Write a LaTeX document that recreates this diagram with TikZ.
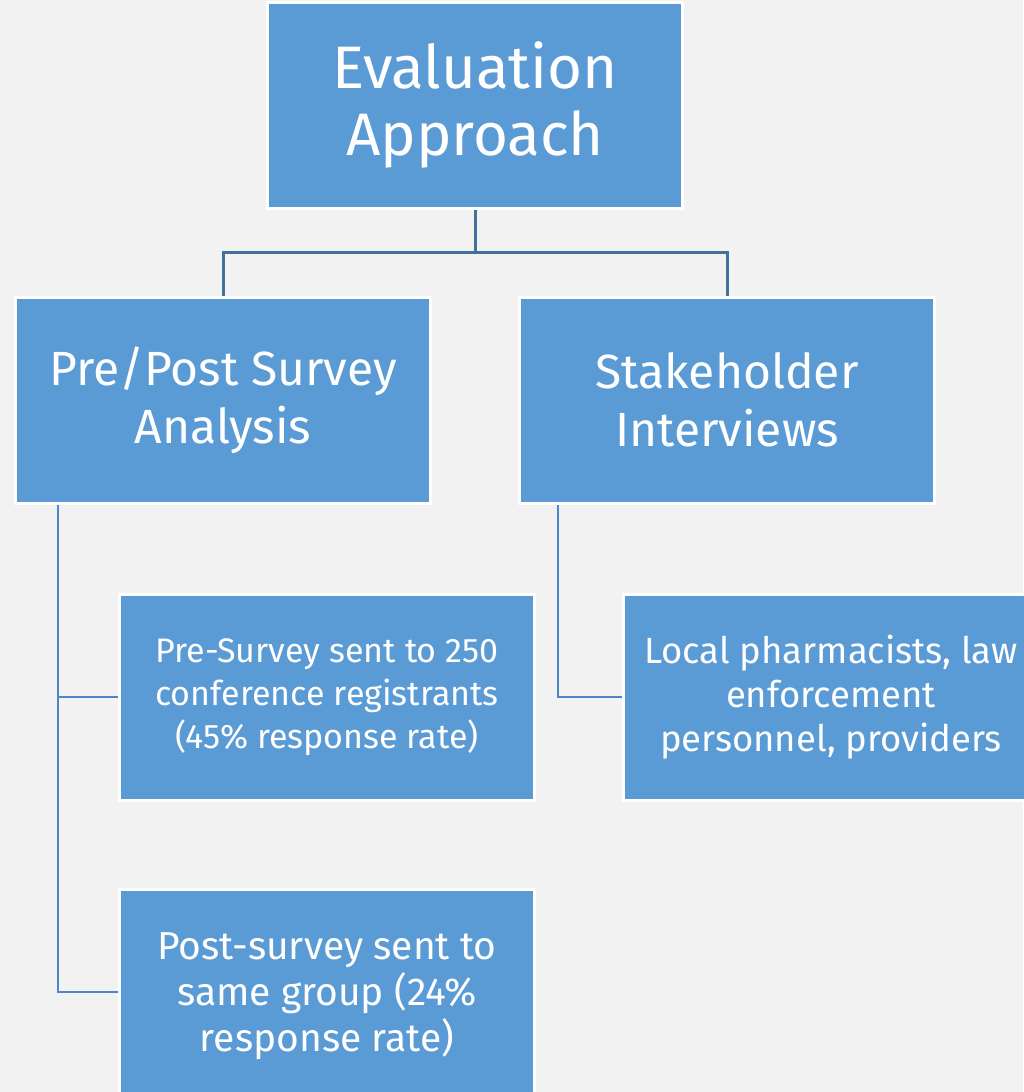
\documentclass[tikz,border=0pt]{standalone}
\usepackage{fontspec}
\setmainfont{Fira Sans}
\usetikzlibrary{positioning}
\definecolor{bgGray}{HTML}{F2F2F2}
\definecolor{boxBlue}{HTML}{5B9BD5}
\definecolor{lineDark}{HTML}{41719C}
\definecolor{lineBlue}{HTML}{4F86C6}

\begin{document}
\begin{tikzpicture}[x=1pt,y=-1pt,node distance=504pt,
  box/.style={rectangle,draw=white,line width=3pt,fill=boxBlue,text=white,
    minimum width=415pt,minimum height=206pt,align=center,inner sep=0pt}]
\fill[bgGray] (0,0) rectangle (1023,1092);
\useasboundingbox (0,0) rectangle (1023,1092);
\node[box,font=\fontsize{60}{67}\selectfont] (eval) at (475,105) {Evaluation\\Approach};
\node[box,font=\fontsize{48}{58}\selectfont] (survey) at (223,400) {Pre/Post Survey\\Analysis};
\node[box,font=\fontsize{48}{58}\selectfont][right of=survey] (stake) {Stakeholder\\Interviews};
\node[box,font=\fontsize{34}{43}\selectfont] (presurvey) at (327,697) {Pre-Survey sent to 250\\conference registrants\\(45\% response rate)};
\node[box,font=\fontsize{36.5}{44}\selectfont][right of=presurvey] (local) {Local pharmacists, law\\enforcement\\personnel, providers};
\node[box,font=\fontsize{39}{46}\selectfont,text depth=0pt] (postsurvey) at (327,992) {Post-survey sent to\\same group (24\%\\response rate)};
\draw[lineDark,line width=3pt] (eval.south) -- ++(0,43) -| (survey.north);
\draw[lineDark,line width=3pt] (eval.south) -- ++(0,43) -| (stake.north);
\draw[lineBlue,line width=2pt] ([xshift=44pt]survey.south west) |- (presurvey.west);
\draw[lineBlue,line width=2pt] ([xshift=44pt]survey.south west) |- (postsurvey.west);
\draw[lineBlue,line width=2pt] ([xshift=40pt]stake.south west) |- (local.west);
\end{tikzpicture}
\end{document}
